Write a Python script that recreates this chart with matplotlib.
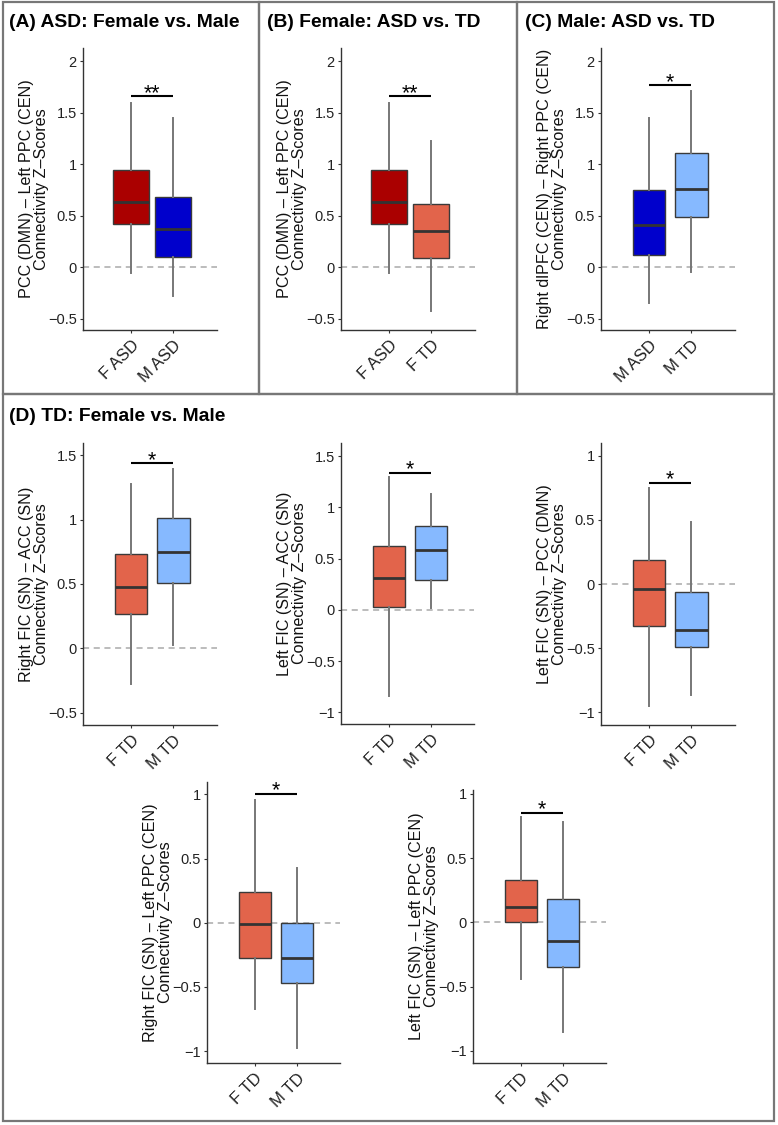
import matplotlib
matplotlib.use('Agg')
import matplotlib.pyplot as plt
from matplotlib.patches import Rectangle

plt.rcParams['font.family'] = ['Liberation Sans', 'DejaVu Sans']

W, H, DPI = 778, 1125, 100

# ---------------- data ----------------
titles = ["(A) ASD: Female vs. Male", "(B) Female: ASD vs. TD",
          "(C) Male: ASD vs. TD", "(D) TD: Female vs. Male"]

# Panel A
groups_A = ["F ASD", "M ASD"]
whislo_A = [-0.06, -0.28]
q1_A = [0.42, 0.095]
med_A = [0.635, 0.37]
q3_A = [0.94, 0.684]
whishi_A = [1.60, 1.45]
sig_A = [1.66, "**"]

# Panel B
groups_B = ["F ASD", "F TD"]
whislo_B = [-0.06, -0.43]
q1_B = [0.42, 0.09]
med_B = [0.635, 0.35]
q3_B = [0.94, 0.61]
whishi_B = [1.60, 1.23]
sig_B = [1.66, "**"]

# Panel C
groups_C = ["M ASD", "M TD"]
whislo_C = [-0.345, -0.045]
q1_C = [0.115, 0.485]
med_C = [0.415, 0.76]
q3_C = [0.752, 1.11]
whishi_C = [1.45, 1.715]
sig_C = [1.77, "*"]

# Panel D (TD only)
groups_D = ["F TD", "M TD"]
whislo_D1 = [-0.277, 0.026]
q1_D1 = [0.267, 0.505]
med_D1 = [0.479, 0.75]
q3_D1 = [0.733, 1.01]
whishi_D1 = [1.274, 1.39]
sig_D1 = [1.44, "*"]

whislo_D2 = [-0.846, 0.016]
q1_D2 = [0.032, 0.293]
med_D2 = [0.315, 0.58]
q3_D2 = [0.624, 0.82]
whishi_D2 = [1.295, 1.13]
sig_D2 = [1.34, "*"]

whislo_D3 = [-0.95, -0.865]
q1_D3 = [-0.325, -0.49]
med_D3 = [-0.039, -0.356]
q3_D3 = [0.185, -0.062]
whishi_D3 = [0.75, 0.48]
sig_D3 = [0.79, "*"]

whislo_D4 = [-0.673, -0.976]
q1_D4 = [-0.277, -0.471]
med_D4 = [-0.01, -0.277]
q3_D4 = [0.236, 0.0]
whishi_D4 = [0.959, 0.427]
sig_D4 = [1.005, "*"]

whislo_D5 = [-0.44, -0.852]
q1_D5 = [0.0, -0.35]
med_D5 = [0.117, -0.143]
q3_D5 = [0.33, 0.179]
whishi_D5 = [0.818, 0.784]
sig_D5 = [0.854, "*"]

ylabels = {
    "A": "PCC (DMN) \u2013 Left PPC (CEN)\nConnectivity Z\u2013Scores",
    "B": "PCC (DMN) \u2013 Left PPC (CEN)\nConnectivity Z\u2013Scores",
    "C": "Right dlPFC (CEN) \u2013 Right PPC (CEN)\nConnectivity Z\u2013Scores",
    "D1": "Right FIC (SN) \u2013 ACC (SN)\nConnectivity Z\u2013Scores",
    "D2": "Left FIC (SN) \u2013 ACC (SN)\nConnectivity Z\u2013Scores",
    "D3": "Left FIC (SN) \u2013 PCC (DMN)\nConnectivity Z\u2013Scores",
    "D4": "Right FIC (SN) \u2013 Left PPC (CEN)\nConnectivity Z\u2013Scores",
    "D5": "Left FIC (SN) \u2013 Left PPC (CEN)\nConnectivity Z\u2013Scores",
}

colors = {"F ASD": "#AA0000", "M ASD": "#0000CC",
          "F TD": "#E2644B", "M TD": "#86B9FF"}

yt_top = [-0.5, 0, 0.5, 1, 1.5, 2]
yt_D1 = [-0.5, 0, 0.5, 1, 1.5]
yt_D2 = [-1, -0.5, 0, 0.5, 1, 1.5]
yt_D345 = [-1, -0.5, 0, 0.5, 1]

# ---------------- layout ----------------
fig = plt.figure(figsize=(W / DPI, H / DPI), dpi=DPI)


def add_ax(left, top, right, bottom):
    return fig.add_axes([left / W, 1 - bottom / H, (right - left) / W, (bottom - top) / H])


def fmt(v):
    s = ("%g" % v)
    return s.replace("-", "\u2212")


def panel(rect, groups, lo, q1, med, q3, hi, sig, ylim, yticks, ylab, width):
    ax = add_ax(*rect)
    stats = []
    for i, g in enumerate(groups):
        stats.append(dict(label=g, whislo=lo[i], q1=q1[i], med=med[i],
                          q3=q3[i], whishi=hi[i], fliers=[]))
    ax.axhline(0, color='#aaaaaa', lw=1.1, ls=(0, (4, 3)), zorder=0)
    bp = ax.bxp(stats, positions=[1, 2], widths=width, patch_artist=True,
                showfliers=False, showcaps=False,
                boxprops=dict(edgecolor='#3a3a3a', linewidth=1.0),
                medianprops=dict(color='#333333', linewidth=2.0),
                whiskerprops=dict(color='#777777', linewidth=1.4))
    for patch, g in zip(bp['boxes'], groups):
        patch.set_facecolor(colors[g])
        patch.set_zorder(2)
    for m in bp['medians']:
        m.set_zorder(3)
    ax.plot([1, 2], [sig[0], sig[0]], color='black', lw=1.5, solid_capstyle='butt')
    ax.annotate(sig[1], xy=(1.5, sig[0]), xytext=(0, -2.0), textcoords='offset points',
                ha='center', va='baseline', fontsize=15.5)
    ax.set_xlim(-0.14, 3.03)
    ax.set_ylim(*ylim)
    ax.set_yticks(yticks)
    ax.set_yticklabels([fmt(v) for v in yticks], fontsize=10.5)
    ax.set_xticks([1, 2])
    ax.set_xticklabels(groups, fontsize=12, rotation=45, ha='right',
                       rotation_mode='anchor')
    for s in ['top', 'right']:
        ax.spines[s].set_visible(False)
    for s in ['left', 'bottom']:
        ax.spines[s].set_color('#333333')
        ax.spines[s].set_linewidth(1.0)
    ax.tick_params(axis='both', length=2.5, width=0.8, color='#333333',
                   labelcolor='#222222', pad=2)
    ax.tick_params(axis='x', pad=3)
    ax.patch.set_alpha(0)
    # y label (two lines) placed left of the axis
    lx = rect[0] - 49
    ly = (rect[1] + rect[3]) / 2
    fig.text(lx / W, 1 - ly / H, ylab, rotation=90, ha='center', va='center',
             fontsize=11.6, linespacing=1.0, color='#111111')
    return ax


panel((83, 48, 217, 330), groups_A, whislo_A, q1_A, med_A, q3_A, whishi_A, sig_A,
      (-0.61, 2.13), yt_top, ylabels["A"], 0.85)
panel((341, 48, 475, 330), groups_B, whislo_B, q1_B, med_B, q3_B, whishi_B, sig_B,
      (-0.61, 2.13), yt_top, ylabels["B"], 0.85)
panel((601, 48, 735, 330), groups_C, whislo_C, q1_C, med_C, q3_C, whishi_C, sig_C,
      (-0.61, 2.13), yt_top, ylabels["C"], 0.76)
panel((83, 443, 217, 725), groups_D, whislo_D1, q1_D1, med_D1, q3_D1, whishi_D1, sig_D1,
      (-0.596, 1.595), yt_D1, ylabels["D1"], 0.76)
panel((341, 443, 474, 724), groups_D, whislo_D2, q1_D2, med_D2, q3_D2, whishi_D2, sig_D2,
      (-1.115, 1.63), yt_D2, ylabels["D2"], 0.76)
panel((601, 443, 735, 725), groups_D, whislo_D3, q1_D3, med_D3, q3_D3, whishi_D3, sig_D3,
      (-1.1, 1.1), yt_D345, ylabels["D3"], 0.76)
panel((207, 782, 340, 1063), groups_D, whislo_D4, q1_D4, med_D4, q3_D4, whishi_D4, sig_D4,
      (-1.093, 1.096), yt_D345, ylabels["D4"], 0.76)
panel((473, 790, 606, 1063), groups_D, whislo_D5, q1_D5, med_D5, q3_D5, whishi_D5, sig_D5,
      (-1.094, 1.03), yt_D345, ylabels["D5"], 0.76)

# panel frames
frames = [(3, 2, 259, 394), (259, 2, 517, 394), (517, 2, 774, 394), (3, 394, 774, 1121)]
for (l, t, r, b) in frames:
    fig.add_artist(Rectangle((l / W, 1 - b / H), (r - l) / W, (b - t) / H,
                             transform=fig.transFigure, fill=False,
                             edgecolor='#777777', lw=1.6))

# panel titles
title_pos = [(9, 27), (267, 27), (525, 27), (9, 421)]
for (x, y), t in zip(title_pos, titles):
    fig.text(x / W, 1 - y / H, t, fontsize=13.9, fontweight='bold',
             ha='left', va='baseline', color='black')

fig.savefig('out.png', dpi=DPI)
